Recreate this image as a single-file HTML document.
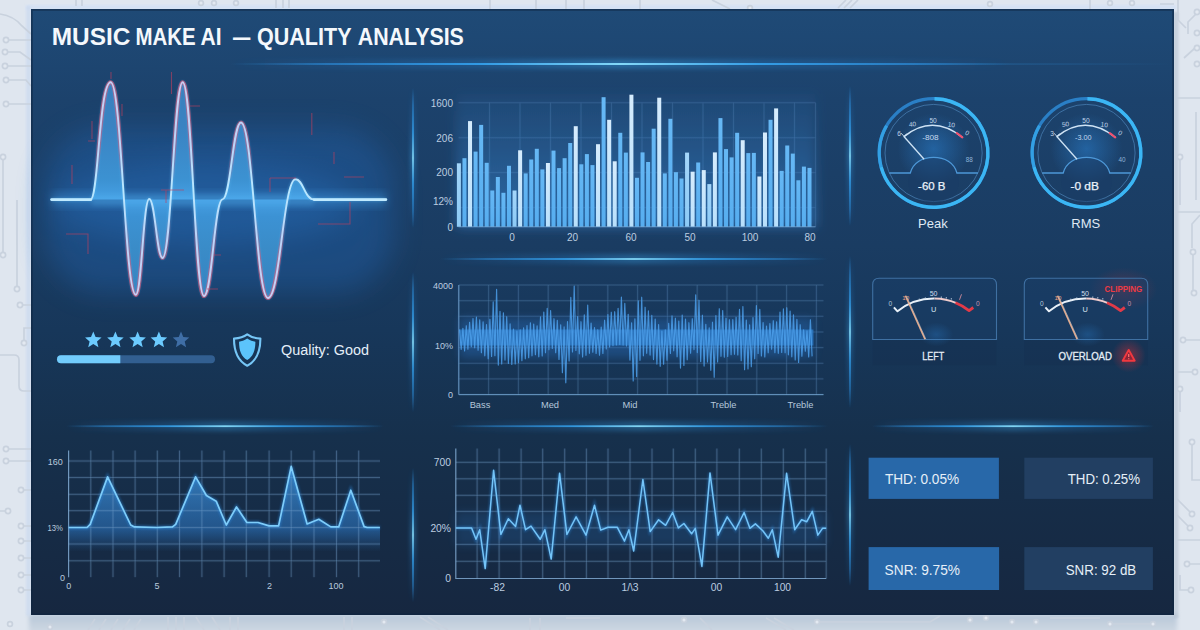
<!DOCTYPE html><html><head><meta charset="utf-8"><title>Music Make AI — Quality Analysis</title>
<style>html,body{margin:0;padding:0;background:#dfe6ef;}body{width:1200px;height:630px;overflow:hidden;}svg{display:block;font-family:"Liberation Sans", sans-serif;}</style></head><body>
<svg width="1200" height="630" viewBox="0 0 1200 630">
<defs>
<linearGradient id="pg" x1="0" y1="0" x2="0" y2="1">
 <stop offset="0" stop-color="#1f4a76"/><stop offset="0.045" stop-color="#1e4874"/><stop offset="0.15" stop-color="#1c426c"/><stop offset="0.39" stop-color="#1a3c62"/><stop offset="0.53" stop-color="#17375a"/><stop offset="0.707" stop-color="#16304c"/><stop offset="1" stop-color="#162740"/>
</linearGradient>
<linearGradient id="bgg" x1="0" y1="0" x2="0" y2="1"><stop offset="0" stop-color="#dfe6ef"/><stop offset="1" stop-color="#dfe6ef"/></linearGradient>
<linearGradient id="hg" x1="0" y1="0" x2="1" y2="0">
 <stop offset="0" stop-color="#2f9bf0" stop-opacity="0"/><stop offset="0.12" stop-color="#2f9bf0" stop-opacity="0.5"/><stop offset="0.32" stop-color="#35a7f5" stop-opacity="0.9"/><stop offset="0.5" stop-color="#8be2ff" stop-opacity="1"/><stop offset="0.68" stop-color="#35a7f5" stop-opacity="0.9"/><stop offset="0.88" stop-color="#2f9bf0" stop-opacity="0.5"/><stop offset="1" stop-color="#2f9bf0" stop-opacity="0"/>
</linearGradient>
<linearGradient id="vg" x1="0" y1="0" x2="0" y2="1">
 <stop offset="0" stop-color="#2f9bf0" stop-opacity="0"/><stop offset="0.12" stop-color="#2f9bf0" stop-opacity="0.5"/><stop offset="0.32" stop-color="#35a7f5" stop-opacity="0.9"/><stop offset="0.5" stop-color="#8be2ff" stop-opacity="1"/><stop offset="0.68" stop-color="#35a7f5" stop-opacity="0.9"/><stop offset="0.88" stop-color="#2f9bf0" stop-opacity="0.5"/><stop offset="1" stop-color="#2f9bf0" stop-opacity="0"/>
</linearGradient>
<linearGradient id="hgh" x1="0" y1="0" x2="1" y2="0"><stop offset="0" stop-color="#2f9bf0" stop-opacity="0"/><stop offset="0.3" stop-color="#2f9bf0" stop-opacity="0.5"/><stop offset="0.5" stop-color="#3fb0f8" stop-opacity="0.9"/><stop offset="0.7" stop-color="#2f9bf0" stop-opacity="0.5"/><stop offset="1" stop-color="#2f9bf0" stop-opacity="0"/></linearGradient>
<linearGradient id="vgh" x1="0" y1="0" x2="0" y2="1"><stop offset="0" stop-color="#2f9bf0" stop-opacity="0"/><stop offset="0.3" stop-color="#2f9bf0" stop-opacity="0.5"/><stop offset="0.5" stop-color="#3fb0f8" stop-opacity="0.9"/><stop offset="0.7" stop-color="#2f9bf0" stop-opacity="0.5"/><stop offset="1" stop-color="#2f9bf0" stop-opacity="0"/></linearGradient>
<linearGradient id="shd" x1="0" y1="0" x2="0" y2="1"><stop offset="0" stop-color="#b6c6d8"/><stop offset="0.75" stop-color="#cdd7e2"/><stop offset="1" stop-color="#d2dbe5"/></linearGradient>
<radialGradient id="rg"><stop offset="0" stop-color="#2d8ee6" stop-opacity="0.44"/><stop offset="1" stop-color="#2d8ee6" stop-opacity="0"/></radialGradient>
<radialGradient id="rgr"><stop offset="0" stop-color="#ff3030" stop-opacity="0.55"/><stop offset="1" stop-color="#ff3030" stop-opacity="0"/></radialGradient>
<linearGradient id="wf" x1="0" y1="0" x2="0" y2="1">
 <stop offset="0" stop-color="#3f9ae8" stop-opacity="0.95"/><stop offset="0.5" stop-color="#3f9ae8" stop-opacity="0.75"/><stop offset="1" stop-color="#3f9ae8" stop-opacity="0.95"/>
</linearGradient>
<linearGradient id="af" x1="0" y1="0" x2="0" y2="1">
 <stop offset="0" stop-color="#3f9fe8" stop-opacity="0.9"/><stop offset="1" stop-color="#2f7fd0" stop-opacity="0.25"/>
</linearGradient>
<linearGradient id="band" x1="0" y1="0" x2="0" y2="1">
 <stop offset="0" stop-color="#2f7fd0" stop-opacity="0.55"/><stop offset="1" stop-color="#2f7fd0" stop-opacity="0"/>
</linearGradient>
<filter id="b2" x="-100%" y="-100%" width="300%" height="300%"><feGaussianBlur stdDeviation="2"/></filter>
<filter id="b4" x="-30%" y="-30%" width="160%" height="160%"><feGaussianBlur stdDeviation="4"/></filter>
<filter id="b6" x="-20%" y="-30%" width="140%" height="160%"><feGaussianBlur stdDeviation="6"/></filter>
<filter id="b1" x="-50%" y="-50%" width="200%" height="200%"><feGaussianBlur stdDeviation="0.8"/></filter>
</defs>
<rect width="1200" height="630" fill="url(#bgg)"/>
<rect x="29" y="614" width="1148" height="22" fill="url(#shd)" filter="url(#b2)"/>
<rect x="1173" y="12" width="5.5" height="606" fill="#b4c0cf" opacity="0.55" filter="url(#b1)"/>
<rect x="26" y="5" width="1150" height="5" fill="#d3e1f6" opacity="0.8" filter="url(#b1)"/>
<rect x="26" y="6" width="5" height="610" fill="#cddbf0" opacity="0.8" filter="url(#b1)"/>
<g id="circ" fill="none" stroke="#c9d2de" stroke-width="1.7">
<path d="M0,14 Q14,16 22,26 L31,34 M9,40 H31 M8,52 H20 L31,60 M8,66 H31 M9,80 H26 L31,86 M9,104 H31 M3,160 V252 M17,200 V286 M22,305 H31 M0,355 H14 Q19,355 19,360 V386 Q19,391 24,391 H31 M9,449 H31 M9,461 H31 M24,490 H31 M8,511 H0 M24,526 H31 M24,541 H31 M24,558 H31 M24,575 H31 M24,590 H31 M24,340 V328 H31 M1178,0 V20 L1186,28 M1196,14 L1188,22 V34 M1195,33 H1200 M1195,48 L1184,58 M1195,64 H1200 M1176,98 H1200 M1176,212 H1200 M1196,112 V200 M1180,160 V205 M1200,215 L1192,224 V248 M1193,255 V290 M1186,340 H1200 M1192,372 H1176 M1180,392 V412 M1192,445 V480 H1200 M1176,498 L1190,512 M1176,514 L1188,526 M1176,540 H1200 M1190,564 H1200 M1180,575 V590 H1188 M76,0 V6 M82,0 V6 M276,0 V8 M283,0 V8 M289,0 V8 M490,0 V9 M536,0 V9 M566,0 V9 M584,0 V9 M640,0 V9 M712,0 L730,9 M846,0 L838,8 M852,0 L844,8 M858,0 L850,8 M1090,0 V9 M1160,4 H1174 M95,619 L88,630 M106,619 L99,630 M118,619 L111,630 M130,619 L123,630 M141,619 L134,630 M168,617 V630 M176,617 V630 M184,617 V630 M196,617 L204,630 M212,617 L220,630 M230,617 V630 M238,617 V630 M344,617 V630 M352,617 V630 M420,617 L440,630 M428,617 L448,630 M530,618 V630 M540,618 V630 M566,618 H600 M700,618 L712,630 M766,618 L786,630 M774,618 L794,630 M820,622 H930 L940,616 M1050,618 H1100 M1112,624 H1150"/>
<circle cx="6" cy="40" r="2.6" fill="#e3e9f1"/><circle cx="5" cy="52" r="2.6" fill="#e3e9f1"/><circle cx="5" cy="66" r="2.6" fill="#e3e9f1"/><circle cx="6" cy="80" r="2.6" fill="#e3e9f1"/><circle cx="6" cy="104" r="2.6" fill="#e3e9f1"/><circle cx="3" cy="157" r="2.6" fill="#e3e9f1"/><circle cx="3" cy="255" r="2.6" fill="#e3e9f1"/><circle cx="17" cy="289" r="2.6" fill="#e3e9f1"/><circle cx="20" cy="305" r="2.6" fill="#e3e9f1"/><circle cx="6" cy="449" r="2.6" fill="#e3e9f1"/><circle cx="6" cy="461" r="2.6" fill="#e3e9f1"/><circle cx="21" cy="490" r="2.6" fill="#e3e9f1"/><circle cx="8" cy="511" r="2.6" fill="#e3e9f1"/><circle cx="21" cy="526" r="2.6" fill="#e3e9f1"/><circle cx="21" cy="541" r="2.6" fill="#e3e9f1"/><circle cx="21" cy="558" r="2.6" fill="#e3e9f1"/><circle cx="21" cy="575" r="2.6" fill="#e3e9f1"/><circle cx="21" cy="590" r="2.6" fill="#e3e9f1"/><circle cx="24" cy="343" r="2.6" fill="#e3e9f1"/><circle cx="1197" cy="12" r="2.6" fill="#e3e9f1"/><circle cx="1197" cy="33" r="2.6" fill="#e3e9f1"/><circle cx="1197" cy="48" r="2.6" fill="#e3e9f1"/><circle cx="1197" cy="64" r="2.6" fill="#e3e9f1"/><circle cx="1180" cy="157" r="2.6" fill="#e3e9f1"/><circle cx="1193" cy="252" r="2.6" fill="#e3e9f1"/><circle cx="1194" cy="293" r="2.6" fill="#e3e9f1"/><circle cx="1183" cy="340" r="2.6" fill="#e3e9f1"/><circle cx="1195" cy="372" r="2.6" fill="#e3e9f1"/><circle cx="1180" cy="389" r="2.6" fill="#e3e9f1"/><circle cx="1192" cy="442" r="2.6" fill="#e3e9f1"/><circle cx="1192" cy="514" r="2.6" fill="#e3e9f1"/><circle cx="1190" cy="528" r="2.6" fill="#e3e9f1"/><circle cx="1187" cy="564" r="2.6" fill="#e3e9f1"/><circle cx="1191" cy="590" r="2.6" fill="#e3e9f1"/><circle cx="201" cy="3" r="2.4" fill="#e3e9f1"/><circle cx="214" cy="3" r="2.4" fill="#e3e9f1"/><circle cx="236" cy="3" r="2.4" fill="#e3e9f1"/><circle cx="750" cy="8" r="2.4" fill="#e3e9f1"/><circle cx="990" cy="4" r="2.4" fill="#e3e9f1"/><circle cx="1110" cy="3" r="2.4" fill="#e3e9f1"/><circle cx="1132" cy="3" r="2.4" fill="#e3e9f1"/><circle cx="384" cy="622" r="2.4" fill="#e3e9f1"/><circle cx="684" cy="620" r="2.4" fill="#e3e9f1"/><circle cx="817" cy="622" r="2.4" fill="#e3e9f1"/><circle cx="970" cy="620" r="2.4" fill="#e3e9f1"/><circle cx="986" cy="618" r="2.4" fill="#e3e9f1"/><circle cx="1012" cy="622" r="2.4" fill="#e3e9f1"/><circle cx="1036" cy="622" r="2.4" fill="#e3e9f1"/><circle cx="1110" cy="624" r="2.4" fill="#e3e9f1"/><circle cx="1153" cy="624" r="2.4" fill="#e3e9f1"/><circle cx="10" cy="624" r="2.4" fill="#e3e9f1"/><circle cx="50" cy="627" r="2.4" fill="#e3e9f1"/>
</g>
<rect x="31" y="9" width="1143" height="606" fill="url(#pg)"/>
<rect x="31.9" y="9.9" width="1141.2" height="604.2" fill="none" stroke="#0f2440" stroke-width="1.8" opacity="0.55"/>
<rect x="262" y="63.4" width="910" height="1.3" fill="url(#hg)" opacity="0.35"/>
<rect x="230" y="59" width="780" height="10" fill="url(#hgh)" opacity="0.36" filter="url(#b2)"/>
<rect x="230" y="63.1" width="780" height="1.8" fill="url(#hg)" opacity="1.0"/>
<rect x="440" y="254" width="388" height="10" fill="url(#hgh)" opacity="0.324" filter="url(#b2)"/>
<rect x="440" y="258.1" width="388" height="1.8" fill="url(#hg)" opacity="0.9"/>
<rect x="66" y="421.2" width="318" height="10" fill="url(#hgh)" opacity="0.324" filter="url(#b2)"/>
<rect x="66" y="425.3" width="318" height="1.8" fill="url(#hg)" opacity="0.9"/>
<rect x="450" y="421.2" width="378" height="10" fill="url(#hgh)" opacity="0.324" filter="url(#b2)"/>
<rect x="450" y="425.3" width="378" height="1.8" fill="url(#hg)" opacity="0.9"/>
<rect x="872" y="421.2" width="282" height="10" fill="url(#hgh)" opacity="0.324" filter="url(#b2)"/>
<rect x="872" y="425.3" width="282" height="1.8" fill="url(#hg)" opacity="0.9"/>
<rect x="410.5" y="88" width="5" height="140" fill="url(#vgh)" opacity="0.45" filter="url(#b2)"/>
<rect x="412.25" y="88" width="1.5" height="140" fill="url(#vg)" opacity="1.0"/>
<rect x="410.5" y="272" width="5" height="140" fill="url(#vgh)" opacity="0.45" filter="url(#b2)"/>
<rect x="412.25" y="272" width="1.5" height="140" fill="url(#vg)" opacity="1.0"/>
<rect x="410.5" y="468" width="5" height="134" fill="url(#vgh)" opacity="0.45" filter="url(#b2)"/>
<rect x="412.25" y="468" width="1.5" height="134" fill="url(#vg)" opacity="1.0"/>
<rect x="847.5" y="86" width="5" height="140" fill="url(#vgh)" opacity="0.45" filter="url(#b2)"/>
<rect x="849.25" y="86" width="1.5" height="140" fill="url(#vg)" opacity="1.0"/>
<rect x="847.5" y="256" width="5" height="152" fill="url(#vgh)" opacity="0.45" filter="url(#b2)"/>
<rect x="849.25" y="256" width="1.5" height="152" fill="url(#vg)" opacity="1.0"/>
<rect x="847.5" y="444" width="5" height="142" fill="url(#vgh)" opacity="0.45" filter="url(#b2)"/>
<rect x="849.25" y="444" width="1.5" height="142" fill="url(#vg)" opacity="1.0"/>
<text y="45.3" font-size="24" font-weight="bold" fill="#f4f8fc"><tspan x="51.8" textLength="78.6" lengthAdjust="spacingAndGlyphs">MUSIC</tspan> <tspan x="135.4" textLength="60.2" lengthAdjust="spacingAndGlyphs">MAKE</tspan> <tspan x="200.6" textLength="21" lengthAdjust="spacingAndGlyphs">AI</tspan> <tspan x="233.1" textLength="17.3" lengthAdjust="spacingAndGlyphs">—</tspan> <tspan x="256.9" textLength="94.3" lengthAdjust="spacingAndGlyphs">QUALITY</tspan> <tspan x="357.7" textLength="106.2" lengthAdjust="spacingAndGlyphs">ANALYSIS</tspan></text>
<defs><linearGradient id="wred" gradientUnits="userSpaceOnUse" x1="0" y1="80" x2="0" y2="300"><stop offset="0" stop-color="#d84a6a" stop-opacity="1"/><stop offset="0.30" stop-color="#d84a6a" stop-opacity="0.75"/><stop offset="0.47" stop-color="#d84a6a" stop-opacity="0"/><stop offset="0.62" stop-color="#d84a6a" stop-opacity="0"/><stop offset="0.8" stop-color="#d84a6a" stop-opacity="0.8"/><stop offset="1" stop-color="#d84a6a" stop-opacity="1"/></linearGradient><linearGradient id="wfill" gradientUnits="userSpaceOnUse" x1="0" y1="80" x2="0" y2="300"><stop offset="0" stop-color="#3a7fbc"/><stop offset="0.21" stop-color="#3a83c2"/><stop offset="0.455" stop-color="#3c92d2"/><stop offset="0.54" stop-color="#46a0e4"/><stop offset="0.62" stop-color="#3c92d4"/><stop offset="0.76" stop-color="#3a8cc8"/><stop offset="1" stop-color="#3582c0"/></linearGradient><linearGradient id="wline" gradientUnits="userSpaceOnUse" x1="0" y1="80" x2="0" y2="300"><stop offset="0" stop-color="#c8d0f4"/><stop offset="0.3" stop-color="#bcd4f8"/><stop offset="0.5" stop-color="#b8e8ff"/><stop offset="0.7" stop-color="#bcd4f8"/><stop offset="1" stop-color="#c8d0f4"/></linearGradient><filter id="b14" x="-30%" y="-60%" width="160%" height="220%"><feGaussianBlur stdDeviation="14"/></filter></defs>
<rect x="44" y="128" width="350" height="165" rx="60" fill="#2468b8" opacity="0.36" filter="url(#b14)"/>
<ellipse cx="205" cy="203.6" rx="150" ry="40" fill="#2b78cc" opacity="0.30" filter="url(#b14)"/>
<rect x="52" y="192.6" width="334" height="14" fill="#4aa8f0" opacity="0.32" filter="url(#b4)"/>
<path d="M51.5,199.6 L90.5,199.6 C98.5,199.6 99.0,82.3 110.7,82.3 C121.7,82.3 124.8,294.8 135.8,294.8 C141.7,294.8 143.3,199.0 149.2,199.0 C155.1,199.0 156.7,258.0 162.6,258 C171.4,258.0 173.9,82.3 182.7,82.3 C192.1,82.3 194.6,296.0 204,296 C212.1,296.0 214.4,199.4 222.5,199.4 C230.6,199.4 232.9,122.5 241,122.5 C252.9,122.5 256.1,298.0 268,298 C280.1,298.0 283.4,179.3 295.5,179.3 C303.5,179.3 304.5,199.6 314.5,199.6 L386,199.6 Z" fill="url(#wfill)"/>
<rect x="92" y="194.6" width="222" height="11" fill="#5cbcf8" opacity="0.22" filter="url(#b2)"/>
<path d="M51.5,199.6 L90.5,199.6 C98.5,199.6 99.0,82.3 110.7,82.3 C121.7,82.3 124.8,294.8 135.8,294.8 C141.7,294.8 143.3,199.0 149.2,199.0 C155.1,199.0 156.7,258.0 162.6,258 C171.4,258.0 173.9,82.3 182.7,82.3 C192.1,82.3 194.6,296.0 204,296 C212.1,296.0 214.4,199.4 222.5,199.4 C230.6,199.4 232.9,122.5 241,122.5 C252.9,122.5 256.1,298.0 268,298 C280.1,298.0 283.4,179.3 295.5,179.3 C303.5,179.3 304.5,199.6 314.5,199.6 L386,199.6" fill="none" stroke="url(#wred)" stroke-width="4.2" stroke-linejoin="round" opacity="0.8"/>
<path d="M51.5,199.6 L90.5,199.6 C98.5,199.6 99.0,82.3 110.7,82.3 C121.7,82.3 124.8,294.8 135.8,294.8 C141.7,294.8 143.3,199.0 149.2,199.0 C155.1,199.0 156.7,258.0 162.6,258 C171.4,258.0 173.9,82.3 182.7,82.3 C192.1,82.3 194.6,296.0 204,296 C212.1,296.0 214.4,199.4 222.5,199.4 C230.6,199.4 232.9,122.5 241,122.5 C252.9,122.5 256.1,298.0 268,298 C280.1,298.0 283.4,179.3 295.5,179.3 C303.5,179.3 304.5,199.6 314.5,199.6 L386,199.6" fill="none" stroke="#5fc2fa" stroke-width="3.6" stroke-linejoin="round" opacity="0.3" filter="url(#b1)"/>
<path d="M51.5,199.6 L90.5,199.6 C98.5,199.6 99.0,82.3 110.7,82.3 C121.7,82.3 124.8,294.8 135.8,294.8 C141.7,294.8 143.3,199.0 149.2,199.0 C155.1,199.0 156.7,258.0 162.6,258 C171.4,258.0 173.9,82.3 182.7,82.3 C192.1,82.3 194.6,296.0 204,296 C212.1,296.0 214.4,199.4 222.5,199.4 C230.6,199.4 232.9,122.5 241,122.5 C252.9,122.5 256.1,298.0 268,298 C280.1,298.0 283.4,179.3 295.5,179.3 C303.5,179.3 304.5,199.6 314.5,199.6 L386,199.6" fill="none" stroke="url(#wline)" stroke-width="1.9" stroke-linejoin="round" stroke-linecap="round"/>
<path d="M51.5,199.6 H91 M314,199.6 H386" stroke="#bfeaff" stroke-width="2.6" stroke-linecap="round"/>
<path d="M111,72 v7 M122,104 v12 M92,121 v18 M88,141 h7 M72,165 v19 M66,234 h22 v20 M171.5,72 v22 M190,106 h10 M311.8,113 v22 M334,152 v12 M270,178 h26 M270,178 v14 M344,177 h20 M318,224 h32 v-22 M214,255 h7 M207,289 h11 M161,190 h23 M166,190 v13" fill="none" stroke="#c2405e" stroke-width="1.1" opacity="0.6"/>
<polygon points="93.30,331.50 95.59,337.04 101.57,337.51 97.01,341.41 98.41,347.24 93.30,344.10 88.19,347.24 89.59,341.41 85.03,337.51 91.01,337.04" fill="#6ccbff"/>
<polygon points="115.40,331.50 117.69,337.04 123.67,337.51 119.11,341.41 120.51,347.24 115.40,344.10 110.29,347.24 111.69,341.41 107.13,337.51 113.11,337.04" fill="#6ccbff"/>
<polygon points="137.60,331.50 139.89,337.04 145.87,337.51 141.31,341.41 142.71,347.24 137.60,344.10 132.49,347.24 133.89,341.41 129.33,337.51 135.31,337.04" fill="#6ccbff"/>
<polygon points="158.90,331.50 161.19,337.04 167.17,337.51 162.61,341.41 164.01,347.24 158.90,344.10 153.79,347.24 155.19,341.41 150.63,337.51 156.61,337.04" fill="#6ccbff"/>
<polygon points="181.00,331.50 183.29,337.04 189.27,337.51 184.71,341.41 186.11,347.24 181.00,344.10 175.89,347.24 177.29,341.41 172.73,337.51 178.71,337.04" fill="#3f6ea6"/>
<rect x="57" y="355.3" width="158" height="8" rx="4" fill="#325f91"/>
<path d="M61,355.3 H120.3 V363.3 H61 A4,4 0 0 1 61,355.3 Z" fill="#72ccfc"/>
<path d="M247.2,334.4 C251.2,337.4 256,338.3 260.4,338.6 C260.4,352 257,360.8 247.2,365.7 C237.4,360.8 234,352 234,338.6 C238.4,338.3 243.2,337.4 247.2,334.4 Z" fill="none" stroke="#76c6f6" stroke-width="2.1" stroke-linejoin="round"/>
<path d="M247.2,338.6 C250,340.6 252.8,341.5 255.4,341.8 C255.3,351 253,356.8 247.2,360 C241.4,356.8 239.1,351 239,341.8 C241.6,341.5 244.4,340.6 247.2,338.6 Z" fill="#5cc4fb"/>
<text x="281" y="355" font-size="15.5" fill="#e4eef8" textLength="88" lengthAdjust="spacingAndGlyphs">Quality: Good</text>
<defs><linearGradient id="bw" x1="0" y1="0" x2="0" y2="1"><stop offset="0" stop-color="#d6ecfd"/><stop offset="1" stop-color="#b8e0fc"/></linearGradient><linearGradient id="bb" x1="0" y1="0" x2="0" y2="1"><stop offset="0" stop-color="#66b8f5"/><stop offset="1" stop-color="#56adef"/></linearGradient><linearGradient id="bl" x1="0" y1="0" x2="0" y2="1"><stop offset="0" stop-color="#a4d6fa"/><stop offset="1" stop-color="#8ccaf6"/></linearGradient><linearGradient id="bhz" x1="0" y1="0" x2="0" y2="1"><stop offset="0" stop-color="#3b8fe0" stop-opacity="0.07"/><stop offset="0.4" stop-color="#3b8fe0" stop-opacity="0.25"/><stop offset="1" stop-color="#3b8fe0" stop-opacity="0.52"/></linearGradient></defs>
<path d="M458.5,102.7 H815.5 M458.5,137.7 H815.5 M458.5,172.6 H815.5 M458.5,207.6 H815.5 M489.5,102.7 V226.8 M520,102.7 V226.8 M550.5,102.7 V226.8 M581,102.7 V226.8 M611.5,102.7 V226.8 M642,102.7 V226.8 M672.5,102.7 V226.8 M703,102.7 V226.8 M733.5,102.7 V226.8 M764,102.7 V226.8 M794.5,102.7 V226.8 M815.5,102.7 V226.8" stroke="#5d8fc4" stroke-width="2.4" opacity="0.07" fill="none"/>
<path d="M458.5,102.7 H815.5 M458.5,137.7 H815.5 M458.5,172.6 H815.5 M458.5,207.6 H815.5 M489.5,102.7 V226.8 M520,102.7 V226.8 M550.5,102.7 V226.8 M581,102.7 V226.8 M611.5,102.7 V226.8 M642,102.7 V226.8 M672.5,102.7 V226.8 M703,102.7 V226.8 M733.5,102.7 V226.8 M764,102.7 V226.8 M794.5,102.7 V226.8 M815.5,102.7 V226.8" stroke="#6c9bcb" stroke-width="0.9" opacity="0.22" fill="none"/>
<rect x="456.5" y="94" width="359.0" height="133" fill="url(#bhz)" filter="url(#b6)"/>
<rect x="456.90" y="163.3" width="4" height="63.5" fill="url(#bl)"/>
<rect x="462.46" y="158.2" width="4" height="68.6" fill="url(#bb)"/>
<rect x="468.03" y="121.1" width="4" height="105.7" fill="url(#bw)"/>
<rect x="473.59" y="151.6" width="4" height="75.2" fill="url(#bb)"/>
<rect x="479.16" y="124.9" width="4" height="101.9" fill="url(#bb)"/>
<rect x="484.72" y="162.8" width="4" height="64.0" fill="url(#bb)"/>
<rect x="490.29" y="190.5" width="4" height="36.3" fill="url(#bb)"/>
<rect x="495.85" y="177.0" width="4" height="49.8" fill="url(#bb)"/>
<rect x="501.42" y="192.8" width="4" height="34.0" fill="url(#bb)"/>
<rect x="506.98" y="165.8" width="4" height="61.0" fill="url(#bb)"/>
<rect x="512.55" y="190.5" width="4" height="36.3" fill="url(#bl)"/>
<rect x="518.12" y="150.3" width="4" height="76.5" fill="url(#bw)"/>
<rect x="523.68" y="173.4" width="4" height="53.4" fill="url(#bb)"/>
<rect x="529.25" y="159.5" width="4" height="67.3" fill="url(#bb)"/>
<rect x="534.81" y="148.8" width="4" height="78.0" fill="url(#bb)"/>
<rect x="540.38" y="169.4" width="4" height="57.4" fill="url(#bb)"/>
<rect x="545.94" y="163.0" width="4" height="63.8" fill="url(#bw)"/>
<rect x="551.50" y="150.6" width="4" height="76.2" fill="url(#bb)"/>
<rect x="557.07" y="168.1" width="4" height="58.7" fill="url(#bb)"/>
<rect x="562.63" y="158.2" width="4" height="68.6" fill="url(#bb)"/>
<rect x="568.20" y="143.0" width="4" height="83.8" fill="url(#bb)"/>
<rect x="573.76" y="126.2" width="4" height="100.6" fill="url(#bw)"/>
<rect x="579.33" y="164.3" width="4" height="62.5" fill="url(#bb)"/>
<rect x="584.89" y="154.1" width="4" height="72.7" fill="url(#bb)"/>
<rect x="590.46" y="165.1" width="4" height="61.7" fill="url(#bb)"/>
<rect x="596.02" y="144.2" width="4" height="82.6" fill="url(#bw)"/>
<rect x="601.59" y="97.2" width="4" height="129.6" fill="url(#bb)"/>
<rect x="607.15" y="119.8" width="4" height="107.0" fill="url(#bw)"/>
<rect x="612.72" y="161.3" width="4" height="65.5" fill="url(#bw)"/>
<rect x="618.28" y="132.8" width="4" height="94.0" fill="url(#bb)"/>
<rect x="623.85" y="152.6" width="4" height="74.2" fill="url(#bb)"/>
<rect x="629.41" y="94.7" width="4" height="132.1" fill="url(#bw)"/>
<rect x="634.98" y="177.8" width="4" height="49.0" fill="url(#bb)"/>
<rect x="640.54" y="152.4" width="4" height="74.4" fill="url(#bb)"/>
<rect x="646.11" y="162.0" width="4" height="64.8" fill="url(#bb)"/>
<rect x="651.67" y="128.7" width="4" height="98.1" fill="url(#bb)"/>
<rect x="657.24" y="97.7" width="4" height="129.1" fill="url(#bw)"/>
<rect x="662.80" y="173.4" width="4" height="53.4" fill="url(#bb)"/>
<rect x="668.37" y="118.8" width="4" height="108.0" fill="url(#bb)"/>
<rect x="673.93" y="172.2" width="4" height="54.6" fill="url(#bb)"/>
<rect x="679.50" y="178.5" width="4" height="48.3" fill="url(#bb)"/>
<rect x="685.07" y="152.6" width="4" height="74.2" fill="url(#bl)"/>
<rect x="690.63" y="171.7" width="4" height="55.1" fill="url(#bw)"/>
<rect x="696.19" y="162.5" width="4" height="64.3" fill="url(#bb)"/>
<rect x="701.76" y="170.1" width="4" height="56.7" fill="url(#bw)"/>
<rect x="707.33" y="184.1" width="4" height="42.7" fill="url(#bl)"/>
<rect x="712.89" y="152.4" width="4" height="74.4" fill="url(#bw)"/>
<rect x="718.45" y="118.1" width="4" height="108.7" fill="url(#bb)"/>
<rect x="724.02" y="149.1" width="4" height="77.7" fill="url(#bb)"/>
<rect x="729.59" y="157.4" width="4" height="69.4" fill="url(#bb)"/>
<rect x="735.15" y="132.8" width="4" height="94.0" fill="url(#bb)"/>
<rect x="740.71" y="140.2" width="4" height="86.6" fill="url(#bw)"/>
<rect x="746.28" y="153.1" width="4" height="73.7" fill="url(#bb)"/>
<rect x="751.85" y="152.9" width="4" height="73.9" fill="url(#bb)"/>
<rect x="757.41" y="176.5" width="4" height="50.3" fill="url(#bw)"/>
<rect x="762.98" y="132.5" width="4" height="94.3" fill="url(#bw)"/>
<rect x="768.54" y="119.8" width="4" height="107.0" fill="url(#bb)"/>
<rect x="774.11" y="108.4" width="4" height="118.4" fill="url(#bw)"/>
<rect x="779.67" y="170.9" width="4" height="55.9" fill="url(#bb)"/>
<rect x="785.24" y="145.5" width="4" height="81.3" fill="url(#bb)"/>
<rect x="790.80" y="153.6" width="4" height="73.2" fill="url(#bb)"/>
<rect x="796.37" y="180.3" width="4" height="46.5" fill="url(#bb)"/>
<rect x="801.93" y="166.6" width="4" height="60.2" fill="url(#bb)"/>
<rect x="807.50" y="167.9" width="4" height="58.9" fill="url(#bb)"/>
<path d="M458.5,226.8 H815.5" stroke="#7fb2e0" stroke-width="1" opacity="0.7"/>
<text x="453" y="106.6" font-size="10" fill="#bccde0" text-anchor="end">1600</text>
<text x="453" y="142.1" font-size="10" fill="#bccde0" text-anchor="end">206</text>
<text x="453" y="176.1" font-size="10" fill="#bccde0" text-anchor="end">200</text>
<text x="453" y="205.1" font-size="10" fill="#bccde0" text-anchor="end">12%</text>
<text x="453" y="231" font-size="10" fill="#bccde0" text-anchor="end">0</text>
<text x="512" y="240.5" font-size="10" fill="#bccde0" text-anchor="middle">0</text>
<text x="572.5" y="240.5" font-size="10" fill="#bccde0" text-anchor="middle">20</text>
<text x="631" y="240.5" font-size="10" fill="#bccde0" text-anchor="middle">60</text>
<text x="690" y="240.5" font-size="10" fill="#bccde0" text-anchor="middle">50</text>
<text x="750" y="240.5" font-size="10" fill="#bccde0" text-anchor="middle">100</text>
<text x="810" y="240.5" font-size="10" fill="#bccde0" text-anchor="middle">80</text>
<path d="M458.8,285.0 H823.5 M458.8,300.7 H823.5 M458.8,316.3 H823.5 M458.8,332.0 H823.5 M458.8,347.6 H823.5 M458.8,363.3 H823.5 M458.8,378.9 H823.5 M458.8,394.6 H823.5 M458.8,285 V394.6 M488.6,285 V394.6 M518.4,285 V394.6 M548.2,285 V394.6 M578.0,285 V394.6 M607.8,285 V394.6 M637.6,285 V394.6 M667.4,285 V394.6 M697.2,285 V394.6 M727.0,285 V394.6 M756.8,285 V394.6 M786.6,285 V394.6 M816.4,285 V394.6" stroke="#5d8fc4" stroke-width="2.6" opacity="0.08" fill="none"/>
<path d="M458.8,285.0 H823.5 M458.8,300.7 H823.5 M458.8,316.3 H823.5 M458.8,332.0 H823.5 M458.8,347.6 H823.5 M458.8,363.3 H823.5 M458.8,378.9 H823.5 M458.8,394.6 H823.5 M458.8,285 V394.6 M488.6,285 V394.6 M518.4,285 V394.6 M548.2,285 V394.6 M578.0,285 V394.6 M607.8,285 V394.6 M637.6,285 V394.6 M667.4,285 V394.6 M697.2,285 V394.6 M727.0,285 V394.6 M756.8,285 V394.6 M786.6,285 V394.6 M816.4,285 V394.6" stroke="#6c9bcb" stroke-width="0.9" opacity="0.3" fill="none"/>
<path d="M458.8,285 V394.6 H823.5" stroke="#7fb2e0" stroke-width="1" opacity="0.7" fill="none"/>
<rect x="459.8" y="329.5" width="353.6" height="16" fill="#2e7ec8" opacity="0.8"/>
<rect x="459.8" y="318" width="353.6" height="40" fill="#2a72c4" opacity="0.36" filter="url(#b4)"/>
<polyline points="459.5,329.4 461.2,349.4 462.9,328.3 464.6,350.9 466.3,325.7 467.9,349.1 469.6,322.4 471.3,346.7 473.0,318.5 474.7,347.8 476.4,317.1 478.1,350.2 479.7,319.9 481.4,352.7 483.1,321.8 484.8,355.8 486.5,324.6 488.2,358.8 489.9,319.4 491.6,356.5 493.2,301.9 494.9,355.7 496.6,289.3 498.3,365.1 500.0,311.4 501.7,363.9 503.4,312.8 505.0,360.1 506.7,316.7 508.4,363.4 510.1,323.9 511.8,364.5 513.5,329.0 515.2,364.0 516.9,331.1 518.5,362.8 520.2,329.9 521.9,360.7 523.6,327.9 525.3,358.8 527.0,325.6 528.7,357.6 530.4,322.8 532.0,355.8 533.7,324.1 535.4,354.6 537.1,325.9 538.8,356.8 540.5,316.9 542.2,356.0 543.8,312.0 545.5,352.7 547.2,308.3 548.9,349.7 550.6,310.5 552.3,348.5 554.0,318.7 555.7,352.7 557.3,320.4 559.0,359.4 560.7,324.8 562.4,372.7 564.1,326.9 565.8,382.8 567.5,321.6 569.1,361.0 570.8,297.4 572.5,352.0 574.2,286.1 575.9,350.4 577.6,316.5 579.3,353.8 581.0,321.7 582.6,357.0 584.3,314.9 586.0,355.3 587.7,305.1 589.4,353.3 591.1,323.1 592.8,352.2 594.5,327.6 596.1,353.5 597.8,329.7 599.5,355.2 601.2,327.0 602.9,353.5 604.6,320.2 606.3,349.0 607.9,314.5 609.6,347.0 611.3,312.2 613.0,345.6 614.7,311.7 616.4,344.9 618.1,308.4 619.8,344.5 621.4,297.0 623.1,345.1 624.8,303.4 626.5,346.0 628.2,314.3 629.9,360.1 631.6,322.9 633.2,380.9 634.9,318.8 636.6,376.6 638.3,300.9 640.0,360.3 641.7,297.2 643.4,355.8 645.1,307.2 646.7,353.3 648.4,310.9 650.1,355.1 651.8,315.4 653.5,359.6 655.2,319.1 656.9,364.1 658.6,324.5 660.2,366.3 661.9,331.0 663.6,364.1 665.3,329.9 667.0,360.1 668.7,323.4 670.4,353.4 672.0,315.9 673.7,350.8 675.4,318.2 677.1,356.8 678.8,321.1 680.5,368.1 682.2,315.1 683.9,365.4 685.5,319.0 687.2,359.8 688.9,322.7 690.6,353.2 692.3,318.7 694.0,349.6 695.7,294.8 697.3,352.6 699.0,300.2 700.7,361.6 702.4,315.2 704.1,366.1 705.8,324.4 707.5,362.0 709.2,327.8 710.8,370.3 712.5,322.2 714.2,377.3 715.9,315.6 717.6,362.0 719.3,308.7 721.0,356.3 722.7,310.5 724.3,357.1 726.0,318.2 727.7,356.4 729.4,319.7 731.1,354.7 732.8,319.6 734.5,354.2 736.1,317.2 737.8,355.0 739.5,309.3 741.2,360.7 742.9,306.6 744.6,369.7 746.3,320.1 748.0,369.0 749.6,324.9 751.3,366.7 753.0,317.6 754.7,358.8 756.4,305.5 758.1,353.5 759.8,309.4 761.4,356.0 763.1,322.6 764.8,357.0 766.5,326.0 768.2,352.8 769.9,323.6 771.6,349.2 773.3,320.7 774.9,352.6 776.6,321.9 778.3,353.3 780.0,312.1 781.7,352.5 783.4,308.9 785.1,352.8 786.8,307.7 788.4,354.8 790.1,311.1 791.8,356.8 793.5,314.9 795.2,360.0 796.9,319.4 798.6,362.5 800.2,324.7 801.9,356.3 803.6,329.8 805.3,351.2 807.0,330.9 808.7,356.9 810.4,319.7 812.1,356.4" fill="none" stroke="#4c9fea" stroke-width="1.15" stroke-linejoin="round" opacity="0.85"/>
<text x="453" y="288.6" font-size="9" fill="#bccde0" text-anchor="end">4000</text>
<text x="453" y="348.6" font-size="9" fill="#bccde0" text-anchor="end">10%</text>
<text x="453" y="398.1" font-size="9" fill="#bccde0" text-anchor="end">0</text>
<text x="480" y="407.8" font-size="9.3" fill="#b5c7db" text-anchor="middle">Bass</text>
<text x="550" y="407.8" font-size="9.3" fill="#b5c7db" text-anchor="middle">Med</text>
<text x="630" y="407.8" font-size="9.3" fill="#b5c7db" text-anchor="middle">Mid</text>
<text x="723.5" y="407.8" font-size="9.3" fill="#b5c7db" text-anchor="middle">Treble</text>
<text x="800.5" y="407.8" font-size="9.3" fill="#b5c7db" text-anchor="middle">Treble</text>
<defs><linearGradient id="af2" gradientUnits="userSpaceOnUse" x1="0" y1="462" x2="0" y2="528"><stop offset="0" stop-color="#4398e0" stop-opacity="0.8"/><stop offset="1" stop-color="#2f7fd0" stop-opacity="0.5"/></linearGradient></defs>
<rect x="68.6" y="527.5" width="311.4" height="24" fill="url(#band)"/>
<polygon points="68.6,527.5 87.0,527.5 90.2,524.4 107.6,476.9 130.7,525.0 134.5,526.9 156.7,527.5 172.5,526.9 175.7,524.4 195.6,476.9 206.4,495.5 216.2,501.2 226.3,525.0 236.5,506.9 246.9,522.5 258.0,522.5 269.1,525.9 278.6,525.9 291.2,466.4 307.1,524.0 318.8,519.3 330.8,526.9 338.7,526.9 350.8,490.2 364.1,526.6 367.2,527.5 379.9,527.5 380,527.5 68.6,527.5" fill="url(#af2)"/>
<path d="M68.6,461.0 H380 M68.6,477.5 H380 M68.6,494.3 H380 M68.6,510.7 H380 M68.6,527.5 H380 M68.6,544.0 H380 M68.6,560.8 H380 M90.8,450.5 V577.2 M113.0,450.5 V577.2 M135.1,450.5 V577.2 M157.3,450.5 V577.2 M179.5,450.5 V577.2 M201.9,450.5 V577.2 M224.1,450.5 V577.2 M246.3,450.5 V577.2 M269.1,450.5 V577.2 M291.2,450.5 V577.2 M314.0,450.5 V577.2 M336.5,450.5 V577.2 M358.7,450.5 V577.2" stroke="#6d9dcc" stroke-width="2.8" opacity="0.09" fill="none"/>
<path d="M68.6,461.0 H380 M68.6,477.5 H380 M68.6,494.3 H380 M68.6,510.7 H380 M68.6,527.5 H380 M68.6,544.0 H380 M68.6,560.8 H380 M90.8,450.5 V577.2 M113.0,450.5 V577.2 M135.1,450.5 V577.2 M157.3,450.5 V577.2 M179.5,450.5 V577.2 M201.9,450.5 V577.2 M224.1,450.5 V577.2 M246.3,450.5 V577.2 M269.1,450.5 V577.2 M291.2,450.5 V577.2 M314.0,450.5 V577.2 M336.5,450.5 V577.2 M358.7,450.5 V577.2" stroke="#7aa6d2" stroke-width="1" opacity="0.36" fill="none"/>
<path d="M68.6,450.5 V577.2" stroke="#8fbbe4" stroke-width="1.2" opacity="0.75" fill="none"/>
<polyline points="68.6,527.5 87.0,527.5 90.2,524.4 107.6,476.9 130.7,525.0 134.5,526.9 156.7,527.5 172.5,526.9 175.7,524.4 195.6,476.9 206.4,495.5 216.2,501.2 226.3,525.0 236.5,506.9 246.9,522.5 258.0,522.5 269.1,525.9 278.6,525.9 291.2,466.4 307.1,524.0 318.8,519.3 330.8,526.9 338.7,526.9 350.8,490.2 364.1,526.6 367.2,527.5 379.9,527.5" fill="none" stroke="#2f8fe6" stroke-width="3.6" opacity="0.45" filter="url(#b1)"/>
<polyline points="68.6,527.5 87.0,527.5 90.2,524.4 107.6,476.9 130.7,525.0 134.5,526.9 156.7,527.5 172.5,526.9 175.7,524.4 195.6,476.9 206.4,495.5 216.2,501.2 226.3,525.0 236.5,506.9 246.9,522.5 258.0,522.5 269.1,525.9 278.6,525.9 291.2,466.4 307.1,524.0 318.8,519.3 330.8,526.9 338.7,526.9 350.8,490.2 364.1,526.6 367.2,527.5 379.9,527.5" fill="none" stroke="#7ecdfa" stroke-width="1.7" stroke-linejoin="round"/>
<text x="62.8" y="464.7" font-size="9" fill="#b9cadd" text-anchor="end">160</text>
<text x="47.4" y="531.2" font-size="9" fill="#b9cadd" textLength="15.4" lengthAdjust="spacingAndGlyphs">13%</text>
<text x="62.5" y="581" font-size="9" fill="#b9cadd" text-anchor="middle">0</text>
<text x="68.7" y="589" font-size="9" fill="#b9cadd" text-anchor="middle">0</text>
<text x="157" y="589" font-size="9" fill="#b9cadd" text-anchor="middle">5</text>
<text x="269.5" y="589" font-size="9" fill="#b9cadd" text-anchor="middle">2</text>
<text x="336" y="589" font-size="9" fill="#b9cadd" text-anchor="middle">100</text>
<rect x="455.8" y="511.9" width="370.40000000000003" height="34" fill="#2f7fd0" opacity="0.18" filter="url(#b4)"/>
<path d="M455.8,462.3 H826.2 M455.8,478.8 H826.2 M455.8,495.3 H826.2 M455.8,511.4 H826.2 M455.8,527.9 H826.2 M455.8,544.4 H826.2 M455.8,561.3 H826.2 M477.1,448.5 V578.5 M499.1,448.5 V578.5 M521.1,448.5 V578.5 M542.7,448.5 V578.5 M564.7,448.5 V578.5 M586.4,448.5 V578.5 M608.0,448.5 V578.5 M630.0,448.5 V578.5 M652.0,448.5 V578.5 M673.3,448.5 V578.5 M695.3,448.5 V578.5 M716.9,448.5 V578.5 M739.3,448.5 V578.5 M761.3,448.5 V578.5 M783.3,448.5 V578.5 M805.3,448.5 V578.5 M826.2,448.5 V578.5" stroke="#6d9dcc" stroke-width="2.8" opacity="0.09" fill="none"/>
<path d="M455.8,462.3 H826.2 M455.8,478.8 H826.2 M455.8,495.3 H826.2 M455.8,511.4 H826.2 M455.8,527.9 H826.2 M455.8,544.4 H826.2 M455.8,561.3 H826.2 M477.1,448.5 V578.5 M499.1,448.5 V578.5 M521.1,448.5 V578.5 M542.7,448.5 V578.5 M564.7,448.5 V578.5 M586.4,448.5 V578.5 M608.0,448.5 V578.5 M630.0,448.5 V578.5 M652.0,448.5 V578.5 M673.3,448.5 V578.5 M695.3,448.5 V578.5 M716.9,448.5 V578.5 M739.3,448.5 V578.5 M761.3,448.5 V578.5 M783.3,448.5 V578.5 M805.3,448.5 V578.5 M826.2,448.5 V578.5" stroke="#7aa6d2" stroke-width="1" opacity="0.36" fill="none"/>
<path d="M455.8,448.5 V578.5 H826.2" stroke="#8fbbe4" stroke-width="1.2" opacity="0.75" fill="none"/>
<polyline points="455.8,527.9 471.6,527.9 476.0,539.3 479.7,529.7 485.2,568.6 493.6,470.3 500.9,534.5 508.3,518.7 515.6,526.4 520.0,505.2 525.5,529.7 531.0,526.1 540.2,539.3 544.9,529.7 551.2,559.1 559.6,473.3 566.9,534.5 576.1,516.9 586.0,535.2 594.5,505.2 600.7,530.1 608.0,527.2 617.2,527.2 624.5,541.1 628.9,529.7 633.7,551.0 642.9,479.5 650.2,531.6 658.6,519.8 665.6,525.3 672.6,512.5 678.4,527.9 683.9,523.5 691.6,533.8 695.3,528.3 701.9,566.4 710.0,472.9 718.0,535.2 727.2,516.9 735.6,529.7 744.1,512.5 749.9,528.3 755.4,523.9 762.8,530.8 768.3,538.2 772.3,529.7 778.2,557.2 786.6,473.3 794.7,529.7 801.6,519.8 806.8,521.7 812.3,511.4 817.8,535.2 822.5,528.3 826.2,528.3" fill="none" stroke="#2f8fe6" stroke-width="3.4" opacity="0.4" filter="url(#b1)"/>
<polyline points="455.8,527.9 471.6,527.9 476.0,539.3 479.7,529.7 485.2,568.6 493.6,470.3 500.9,534.5 508.3,518.7 515.6,526.4 520.0,505.2 525.5,529.7 531.0,526.1 540.2,539.3 544.9,529.7 551.2,559.1 559.6,473.3 566.9,534.5 576.1,516.9 586.0,535.2 594.5,505.2 600.7,530.1 608.0,527.2 617.2,527.2 624.5,541.1 628.9,529.7 633.7,551.0 642.9,479.5 650.2,531.6 658.6,519.8 665.6,525.3 672.6,512.5 678.4,527.9 683.9,523.5 691.6,533.8 695.3,528.3 701.9,566.4 710.0,472.9 718.0,535.2 727.2,516.9 735.6,529.7 744.1,512.5 749.9,528.3 755.4,523.9 762.8,530.8 768.3,538.2 772.3,529.7 778.2,557.2 786.6,473.3 794.7,529.7 801.6,519.8 806.8,521.7 812.3,511.4 817.8,535.2 822.5,528.3 826.2,528.3" fill="none" stroke="#74c4f8" stroke-width="1.5" stroke-linejoin="round"/>
<text x="451" y="465.8" font-size="10.3" fill="#bccde0" text-anchor="end">700</text>
<text x="451" y="531.5" font-size="10.3" fill="#bccde0" text-anchor="end">20%</text>
<text x="451" y="582.0" font-size="10.3" fill="#bccde0" text-anchor="end">0</text>
<text x="497.5" y="590.8" font-size="10.3" fill="#bccde0" text-anchor="middle">-82</text>
<text x="564.5" y="590.8" font-size="10.3" fill="#bccde0" text-anchor="middle">00</text>
<text x="630" y="590.8" font-size="10.3" fill="#bccde0" text-anchor="middle">1/\3</text>
<text x="716.5" y="590.8" font-size="10.3" fill="#bccde0" text-anchor="middle">00</text>
<text x="782.5" y="590.8" font-size="10.3" fill="#bccde0" text-anchor="middle">100</text>
<circle cx="933.6" cy="149" r="36" fill="url(#rg)"/>
<circle cx="933.6" cy="153" r="54.3" fill="none" stroke="#2a7fc6" stroke-width="3.2"/>
<path d="M881.2,167.1 A54.3,54.3 0 0 1 886.6,125.8" fill="none" stroke="#33a0e4" stroke-width="3.2"/>
<path d="M934.5,98.7 A54.3,54.3 0 0 1 960.8,200.0 A54.3,54.3 0 0 1 881.2,167.1" fill="none" stroke="#3bb6f4" stroke-width="3.4"/>
<circle cx="933.6" cy="153" r="48.6" fill="none" stroke="#4a82b6" stroke-width="0.9" opacity="0.8"/>
<path d="M910.3000000000001,173 C913.1,162.5 922.6,157.4 933.6,157.4 C944.6,157.4 954.1,162.5 956.9,173 C963.6,187 953.6,202 933.6,203 C913.6,202 903.6,187 910.3000000000001,173Z" fill="#193c66" opacity="0.5"/>
<path d="M889.3000000000001,173 H910.3000000000001 C913.1,162.5 922.6,157.4 933.6,157.4 C944.6,157.4 954.1,162.5 956.9,173 H977.9" fill="none" stroke="#4d98d8" stroke-width="1.3"/>
<path d="M904.0,136.6 Q932.6,113.6 962.4,137.4" fill="none" stroke="#cfe3f5" stroke-width="1.5"/>
<path d="M956.8000000000001,133.1 Q959.9,135.1 962.4,137.4" fill="none" stroke="#f0506e" stroke-width="2.1" stroke-linecap="round"/>
<path d="M903.7,136.29999999999998 L924.1,159.3" stroke="#cfe3f5" stroke-width="1.3"/>
<path d="M901.0,133.1 l3.2,3.4 l2.6,-3" stroke="#cfe3f5" stroke-width="0.9" fill="none"/>
<text x="912.6" y="126.5" font-size="6.6" fill="#c2d6ea" text-anchor="middle" transform="rotate(-8 912.6 124.5)">40</text>
<text x="933.1" y="122.5" font-size="6.6" fill="#c2d6ea" text-anchor="middle" transform="rotate(0 933.1 120.5)">50</text>
<text x="951.3000000000001" y="127" font-size="6.6" fill="#c2d6ea" text-anchor="middle" transform="rotate(8 951.3000000000001 125)">10</text>
<text x="967.2" y="135.2" font-size="6.6" fill="#c2d6ea" text-anchor="middle" transform="rotate(30 967.2 133.2)">0</text>
<text x="899.2" y="136" font-size="6.6" fill="#c2d6ea" text-anchor="middle" transform="rotate(0 899.2 134)">6</text>
<text x="930.4" y="139.6" font-size="7" fill="#c2d6ea" text-anchor="middle" textLength="16.5" lengthAdjust="spacingAndGlyphs">-808</text>
<text x="969.2" y="161.6" font-size="6.4" fill="#8fb3d8" text-anchor="middle">88</text>
<text x="931.8000000000001" y="189.8" font-size="11" fill="#eaf2fa" text-anchor="middle" textLength="27.4" lengthAdjust="spacingAndGlyphs" stroke="#eaf2fa" stroke-width="0.25">-60 B</text>
<text x="932.9" y="228.1" font-size="13" fill="#dfe9f4" text-anchor="middle">Peak</text>
<circle cx="1086.5" cy="149" r="36" fill="url(#rg)"/>
<circle cx="1086.5" cy="153" r="54.3" fill="none" stroke="#2a7fc6" stroke-width="3.2"/>
<path d="M1034.1,167.1 A54.3,54.3 0 0 1 1039.5,125.8" fill="none" stroke="#33a0e4" stroke-width="3.2"/>
<path d="M1087.4,98.7 A54.3,54.3 0 0 1 1113.7,200.0 A54.3,54.3 0 0 1 1034.1,167.1" fill="none" stroke="#3bb6f4" stroke-width="3.4"/>
<circle cx="1086.5" cy="153" r="48.6" fill="none" stroke="#4a82b6" stroke-width="0.9" opacity="0.8"/>
<path d="M1063.2,173 C1066.0,162.5 1075.5,157.4 1086.5,157.4 C1097.5,157.4 1107.0,162.5 1109.8,173 C1116.5,187 1106.5,202 1086.5,203 C1066.5,202 1056.5,187 1063.2,173Z" fill="#193c66" opacity="0.5"/>
<path d="M1042.2,173 H1063.2 C1066.0,162.5 1075.5,157.4 1086.5,157.4 C1097.5,157.4 1107.0,162.5 1109.8,173 H1130.8" fill="none" stroke="#4d98d8" stroke-width="1.3"/>
<path d="M1056.9,136.6 Q1085.5,113.6 1115.3,137.4" fill="none" stroke="#cfe3f5" stroke-width="1.5"/>
<path d="M1109.7,133.1 Q1112.8,135.1 1115.3,137.4" fill="none" stroke="#f0506e" stroke-width="2.1" stroke-linecap="round"/>
<path d="M1056.6000000000001,136.29999999999998 L1077.0,159.3" stroke="#cfe3f5" stroke-width="1.3"/>
<path d="M1053.9,133.1 l3.2,3.4 l2.6,-3" stroke="#cfe3f5" stroke-width="0.9" fill="none"/>
<text x="1065.5" y="126.5" font-size="6.6" fill="#c2d6ea" text-anchor="middle" transform="rotate(-8 1065.5 124.5)">50</text>
<text x="1086.0" y="122.5" font-size="6.6" fill="#c2d6ea" text-anchor="middle" transform="rotate(0 1086.0 120.5)">50</text>
<text x="1104.2" y="127" font-size="6.6" fill="#c2d6ea" text-anchor="middle" transform="rotate(8 1104.2 125)">10</text>
<text x="1120.1" y="135.2" font-size="6.6" fill="#c2d6ea" text-anchor="middle" transform="rotate(30 1120.1 133.2)">0</text>
<text x="1052.1" y="136" font-size="6.6" fill="#c2d6ea" text-anchor="middle" transform="rotate(0 1052.1 134)">3</text>
<text x="1083.3" y="139.6" font-size="7" fill="#c2d6ea" text-anchor="middle" textLength="16.5" lengthAdjust="spacingAndGlyphs">-3.00</text>
<text x="1122.1" y="161.6" font-size="6.4" fill="#8fb3d8" text-anchor="middle">40</text>
<text x="1084.7" y="189.8" font-size="11" fill="#eaf2fa" text-anchor="middle" textLength="28.5" lengthAdjust="spacingAndGlyphs" stroke="#eaf2fa" stroke-width="0.25">-0 dB</text>
<text x="1085.8" y="228.1" font-size="13" fill="#dfe9f4" text-anchor="middle">RMS</text>
<rect x="872.7" y="339.5" width="123.79999999999995" height="26" fill="#15304f" opacity="0.38"/>
<path d="M872.7,339.5 V284.8 Q872.7,278.3 879.2,278.3 H990.0 Q996.5,278.3 996.5,284.8 V339.5 Z" fill="#1b4272" fill-opacity="0.30" stroke="#3f70a2" stroke-width="1.1"/>
<ellipse cx="936.3" cy="334.5" rx="17" ry="12" fill="url(#rg)" opacity="0.6"/>
<path d="M893.9,307.3 L897.5,311.3 A58.2,58.2 0 0 1 934.6,298.6" fill="none" stroke="#e8f0f8" stroke-width="2" stroke-linejoin="round"/>
<path d="M934.6,298.6 A58.2,58.2 0 0 1 956.5,303.2" fill="none" stroke="#f0cccc" stroke-width="2"/>
<path d="M955.5,302.8 A58.2,58.2 0 0 1 969.1,310.6 L973.3,307.5" fill="none" stroke="#e23a48" stroke-width="2.8" stroke-linejoin="round"/>
<path d="M919.3,300.20000000000005 v-1.6 M925.3,298.90000000000003 v-1.6 M941.3,298.0 v-1.6 M946.3,298.6 v-1.6 M951.3,299.6 v-1.6" stroke="#c9d8e8" stroke-width="0.8"/>
<path d="M905.4,295.8 L925.0,339.2" stroke="#e4aa8c" stroke-width="1.5"/>
<path d="M906.4,295.8 L925.9,339.2" stroke="#f4e4da" stroke-width="0.5"/>
<text x="933.5999999999999" y="295.6" font-size="7" fill="#d0dfee" text-anchor="middle">50</text>
<text x="933.5999999999999" y="312.3" font-size="7.4" fill="#d6e3f0" text-anchor="middle">U</text>
<text x="890.3" y="306.3" font-size="6.6" fill="#b7c9dc" text-anchor="middle">0</text>
<text x="905.8" y="299.8" font-size="6.2" fill="#e2a488" text-anchor="middle">10</text>
<text x="977.9" y="305.90000000000003" font-size="6.6" fill="#c892b0" text-anchor="middle">0</text>
<path d="M961.5,294.3 l-2,5.5" stroke="#d08c9c" stroke-width="0.9"/>
<text x="922.3000000000001" y="359.7" font-size="10.8" fill="#e6eef6" textLength="21.8" lengthAdjust="spacingAndGlyphs" stroke="#e6eef6" stroke-width="0.3">LEFT</text>
<rect x="1024.3" y="339.5" width="123.40000000000009" height="26" fill="#15304f" opacity="0.38"/>
<ellipse cx="1123.3" cy="289.3" rx="34" ry="22" fill="url(#rgr)" opacity="0.40"/>
<circle cx="1128.7" cy="355.5" r="17" fill="url(#rgr)" opacity="0.75"/>
<path d="M1024.3,339.5 V284.8 Q1024.3,278.3 1030.8,278.3 H1141.2 Q1147.7,278.3 1147.7,284.8 V339.5 Z" fill="#1b4272" fill-opacity="0.30" stroke="#3f70a2" stroke-width="1.1"/>
<ellipse cx="1087.8" cy="334.5" rx="17" ry="12" fill="url(#rg)" opacity="0.6"/>
<path d="M1045.4,307.3 L1049.0,311.3 A58.2,58.2 0 0 1 1086.1,298.6" fill="none" stroke="#e8f0f8" stroke-width="2" stroke-linejoin="round"/>
<path d="M1086.1,298.6 A58.2,58.2 0 0 1 1108.0,303.2" fill="none" stroke="#f0cccc" stroke-width="2"/>
<path d="M1107.0,302.8 A58.2,58.2 0 0 1 1120.6,310.6 L1124.8,307.5" fill="none" stroke="#e23a48" stroke-width="2.8" stroke-linejoin="round"/>
<path d="M1070.8,300.20000000000005 v-1.6 M1076.8,298.90000000000003 v-1.6 M1092.8,298.0 v-1.6 M1097.8,298.6 v-1.6 M1102.8,299.6 v-1.6" stroke="#c9d8e8" stroke-width="0.8"/>
<path d="M1057.5,295.8 L1077.1,339.2" stroke="#e4aa8c" stroke-width="1.5"/>
<path d="M1058.5,295.8 L1078.0,339.2" stroke="#f4e4da" stroke-width="0.5"/>
<text x="1085.1" y="295.6" font-size="7" fill="#d0dfee" text-anchor="middle">50</text>
<text x="1085.1" y="312.3" font-size="7.4" fill="#d6e3f0" text-anchor="middle">U</text>
<text x="1041.8" y="306.3" font-size="6.6" fill="#b7c9dc" text-anchor="middle">0</text>
<text x="1057.8999999999999" y="299.8" font-size="6.2" fill="#e2a488" text-anchor="middle">10</text>
<text x="1129.3999999999999" y="305.90000000000003" font-size="6.6" fill="#c892b0" text-anchor="middle">0</text>
<path d="M1113.0,294.3 l-2,5.5" stroke="#d08c9c" stroke-width="0.9"/>
<text x="1104.6" y="292.1" font-size="8.4" fill="#ee3a44" textLength="37.6" lengthAdjust="spacingAndGlyphs" font-weight="bold">CLIPPING</text>
<text x="1058.5" y="359.7" font-size="11" fill="#e6eef6" textLength="53.5" lengthAdjust="spacingAndGlyphs" stroke="#e6eef6" stroke-width="0.3">OVERLOAD</text>
<path d="M1128.7,349.9 L1134.7,360.7 H1122.7 Z" fill="#a81c2c" fill-opacity="0.55" stroke="#f2383f" stroke-width="1.9" stroke-linejoin="round"/>
<path d="M1128.7,353.9 V357.09999999999997 M1128.7,358.29999999999995 v0.9" stroke="#ff6a6a" stroke-width="1.3"/>
<rect x="868.6" y="457.7" width="130.3" height="41.2" fill="#2868a9"/>
<rect x="1024.3" y="457.7" width="128.6" height="41.2" fill="#223f62"/>
<rect x="868.6" y="547.1" width="130.5" height="42.9" fill="#2868a9"/>
<rect x="1024.3" y="547.1" width="128.6" height="42.9" fill="#223f62"/>
<text x="884.9" y="484.3" font-size="15" fill="#e6eff8" textLength="74.2" lengthAdjust="spacingAndGlyphs">THD: 0.05%</text>
<text x="1067.7" y="484.3" font-size="15" fill="#e6eff8" textLength="72.3" lengthAdjust="spacingAndGlyphs">THD: 0.25%</text>
<text x="884.6" y="574.6" font-size="15" fill="#e6eff8" textLength="75.4" lengthAdjust="spacingAndGlyphs">SNR: 9.75%</text>
<text x="1065.7" y="574.6" font-size="15" fill="#e6eff8" textLength="70.6" lengthAdjust="spacingAndGlyphs">SNR: 92 dB</text>
</svg></body></html>
